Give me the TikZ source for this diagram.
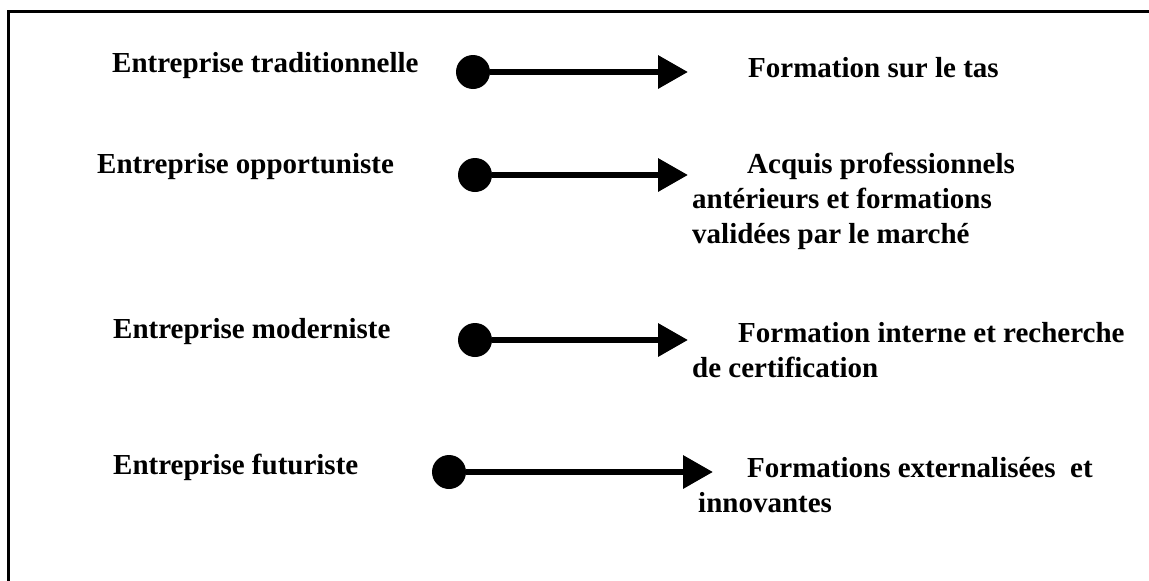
\documentclass[tikz,border=0pt]{standalone}
\usepackage{fontspec}
\setmainfont{Liberation Serif}
\usetikzlibrary{arrows.meta, positioning}

\begin{document}
\begin{tikzpicture}[x=1pt, y=-1pt,
	every node/.style={font=\fontsize{29}{35}\selectfont\bfseries, inner sep=0pt},
	txt/.style={anchor=base west, align=left},
	dot/.style={circle, fill=black, minimum size=34pt, inner sep=0pt},
	link/.style={line width=6.5pt, -{Triangle[length=30pt, width=32pt]}}]
			\useasboundingbox (0,0) rectangle (1149,581);
			\draw[line width=3pt] (8.5,581) -- (8.5,11) -- (1149,11);

			\node (e1)[txt] at (112, 72) {Entreprise traditionnelle};
			\node (e2)[txt] at (97, 173) {Entreprise opportuniste};
			\node (e3)[txt] at (113, 338) {Entreprise moderniste};
			\node (e4)[txt] at (113, 474) {Entreprise futuriste};

			\node (d1)[dot] at (473, 72) {};
			\node (d2)[dot] at (475, 175) {};
			\node (d3)[dot] at (475, 340) {};
			\node (d4)[dot] at (449, 472) {};

			\coordinate (t1) at (688, 72);
			\coordinate (t2) at (688, 175);
			\coordinate (t3) at (688, 340);
			\coordinate (t4) at (713, 472);

			\node (f1)[txt] at (748, 77) {Formation sur le tas};
			\node (f2)[txt] at (692, 243) {\hspace*{55pt}Acquis professionnels\\antérieurs et formations\\validées par le marché};
			\node (f3)[txt] at (692, 377) {\hspace*{46pt}Formation interne et recherche\\de certification};
			\node (f4)[txt] at (698, 512) {\hspace*{49pt}Formations externalisées\ \ et\\innovantes};

			\draw[link] (d1) -- (t1);
			\draw[link] (d2) -- (t2);
			\draw[link] (d3) -- (t3);
			\draw[link] (d4) -- (t4);
\end{tikzpicture}
\end{document}
